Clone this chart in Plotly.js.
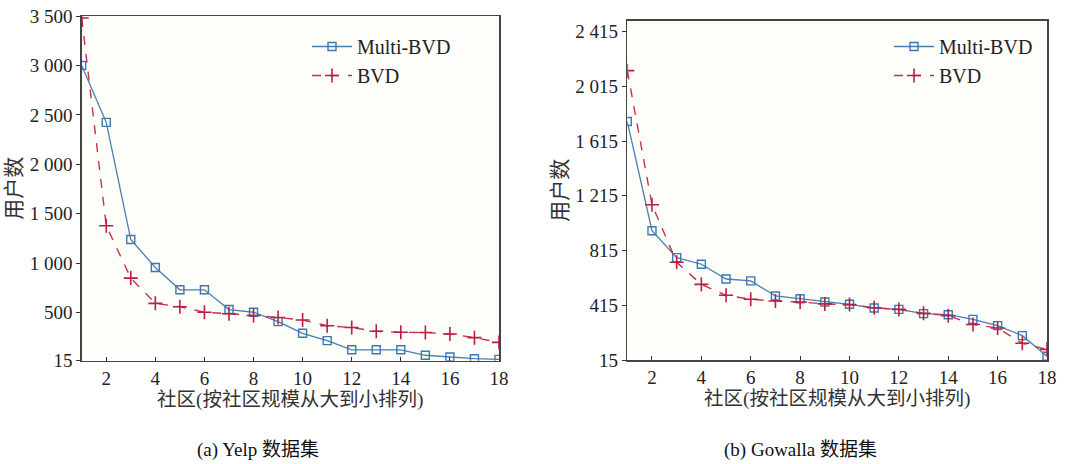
<!DOCTYPE html>
<html>
<head>
<meta charset="utf-8">
<script src="https://cdn.plot.ly/plotly-3.0.1.min.js"></script>
<style>html,body{margin:0;padding:0;background:#fff;}#chart{width:1082px;height:464px;}</style>
</head>
<body>
<div id="chart"></div>
<script>
// Community rank (sorted by size, large to small)
const communities = [1,2,3,4,5,6,7,8,9,10,11,12,13,14,15,16,17,18];

// (a) Yelp dataset
const yelpMultiBVD = [3000,2425,1240,958,732,732,532,505,410,292,218,125,125,125,70,52,35,28];
const yelpBVD      = [3480,1380,850,595,560,505,490,472,452,426,369,350,312,302,300,285,248,200];

// (b) Gowalla dataset
const gowallaMultiBVD = [1758,960,763,715,607,593,483,463,439,422,395,385,354,346,312,266,193,42];
const gowallaBVD      = [2130,1150,729,568,488,459,446,439,425,420,397,385,356,339,275,249,137,93];

// Tick labels
const xTicks = [2,4,6,8,10,12,14,16,18];
const yelpTickVals = [15,500,1000,1500,2000,2500,3000,3500];
const yelpTickText = ['15','500','1 000','1 500','2 000','2 500','3 000','3 500'];
const gowTickVals = [15,415,815,1215,1615,2015,2415];
const gowTickText = ['15','415','815','1 215','1 615','2 015','2 415'];

const seriesNames = ['Multi-BVD','BVD'];
const xTitle = '社区(按社区规模从大到小排列)';
const yTitle = '用户数';
const captions = ['(a) Yelp 数据集','(b) Gowalla 数据集'];

const FONT = 'Liberation Serif, "Noto Sans CJK SC", serif';
const blue = '#4a7eb0';
const red = '#c8304f';

function multiTrace(y, xa, ya, leg) {
  return {x: communities, y: y, xaxis: xa, yaxis: ya, legend: leg, name: seriesNames[0],
    mode: 'lines+markers', line: {color: blue, width: 1.3},
    marker: {symbol: 'square-open', size: 8, color: '#3d78b3', line: {width: 1.4}}};
}
function bvdTrace(y, xa, ya, leg) {
  return {x: communities, y: y, xaxis: xa, yaxis: ya, legend: leg, name: seriesNames[1],
    mode: 'lines+markers', line: {color: red, width: 1.4, dash: 'dash'},
    marker: {symbol: 'cross-thin-open', size: 10, color: '#b8203f', line: {width: 1.6, color: '#b8203f'}}};
}

const data = [
  multiTrace(yelpMultiBVD, 'x', 'y', 'legend'),
  bvdTrace(yelpBVD, 'x', 'y', 'legend'),
  multiTrace(gowallaMultiBVD, 'x2', 'y2', 'legend2'),
  bvdTrace(gowallaBVD, 'x2', 'y2', 'legend2')
];

function xaxis(domain, anchor) {
  return {domain: domain, anchor: anchor, range: [1,18], tickvals: xTicks,
    ticks: 'inside', ticklen: 4, tickcolor: '#333', tickwidth: 1,
    showline: true, linecolor: '#444', linewidth: 1.5, mirror: true,
    showgrid: false, zeroline: false,
    tickfont: {family: FONT, size: 19, color: '#222'},
    title: {text: xTitle, font: {family: FONT, size: 19.5, color: '#333'}, standoff: 1}};
}
function yaxis(domain, anchor, range, vals, text) {
  return {domain: domain, anchor: anchor, range: range, tickvals: vals, ticktext: text,
    ticks: 'outside', ticklen: 4, tickcolor: '#333', tickwidth: 1,
    showline: true, linecolor: '#444', linewidth: 1.5, mirror: true,
    showgrid: false, zeroline: false,
    tickfont: {family: FONT, size: 19, color: '#222'},
    title: {text: yTitle, font: {family: FONT, size: 21, color: '#333'}, standoff: 2}};
}

const W = 1082, H = 464;
const layout = {
  width: W, height: H,
  margin: {l: 0, r: 0, t: 0, b: 0},
  paper_bgcolor: '#ffffff',
  plot_bgcolor: '#fdfdf9',
  showlegend: true,
  xaxis: xaxis([81.7/W, 499/W], 'y'),
  yaxis: yaxis([1-360.7/H, 1-16/H], 'x', [15, 3500], yelpTickVals, yelpTickText),
  xaxis2: xaxis([627.3/W, 1047/W], 'y2'),
  yaxis2: yaxis([1-360/H, 1-20.7/H], 'x2', [15, 2495], gowTickVals, gowTickText),
  legend: {x: 307/W, y: 1-27/H, xanchor: 'left', yanchor: 'top', bgcolor: 'rgba(0,0,0,0)',
    font: {family: FONT, size: 20, color: '#222'}, itemwidth: 40, tracegroupgap: 0},
  legend2: {x: 889/W, y: 1-27/H, xanchor: 'left', yanchor: 'top', bgcolor: 'rgba(0,0,0,0)',
    font: {family: FONT, size: 20, color: '#222'}, itemwidth: 40, tracegroupgap: 0},
  annotations: [
    {text: captions[0], xref: 'paper', yref: 'paper', x: 258/W, y: 1-450/H, xanchor: 'center', yanchor: 'middle',
     showarrow: false, font: {family: FONT, size: 19, color: '#111'}},
    {text: captions[1], xref: 'paper', yref: 'paper', x: 800/W, y: 1-450/H, xanchor: 'center', yanchor: 'middle',
     showarrow: false, font: {family: FONT, size: 19, color: '#111'}}
  ]
};

Plotly.newPlot('chart', data, layout, {displayModeBar: false, staticPlot: true});
</script>
</body>
</html>
